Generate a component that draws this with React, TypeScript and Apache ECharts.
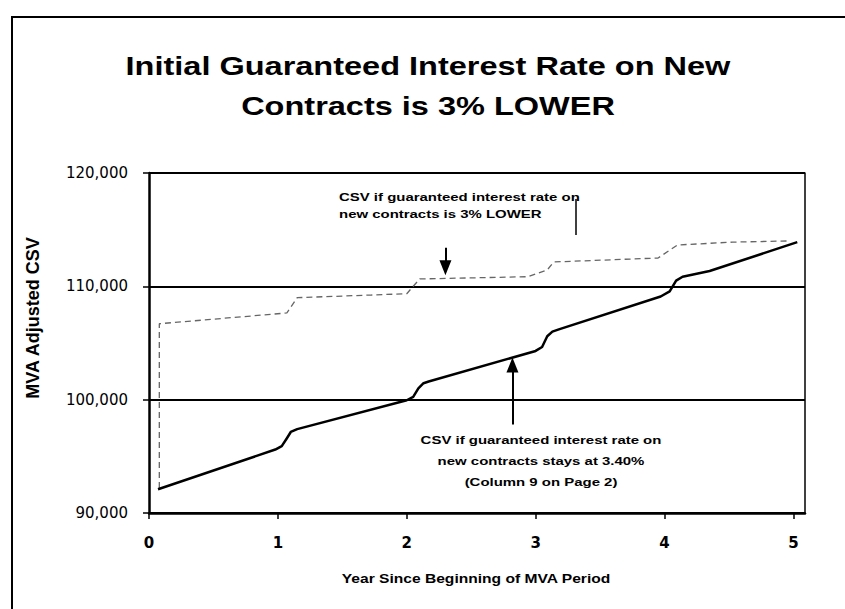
import React, { useEffect, useRef } from 'react';
import * as echarts from 'echarts';

// ---- data ----
const yearTicks = [0, 1, 2, 3, 4, 5];

// CSV if guaranteed interest rate on new contracts stays at 3.40%
const csvStays: [number, number][] = [
  [0.07, 92100], [0.98, 95600], [1.03, 95900], [1.07, 96600], [1.1, 97150], [1.15, 97400],
  [2.0, 99950], [2.05, 100250], [2.09, 101000], [2.13, 101450], [2.17, 101600],
  [3.0, 104300], [3.05, 104650], [3.09, 105600], [3.13, 106000], [3.18, 106200],
  [3.97, 109100], [4.04, 109550], [4.09, 110500], [4.14, 110850], [4.35, 111350], [5.03, 113900],
];

// CSV if guaranteed interest rate on new contracts is 3% LOWER
const csvLower: [number, number][] = [
  [0.08, 92200], [0.08, 106700], [1.07, 107650], [1.15, 109000], [1.72, 109230],
  [2.0, 109350], [2.1, 110650], [2.94, 110850], [3.09, 111450], [3.14, 112150],
  [3.95, 112500], [4.1, 113650], [4.53, 113900], [4.95, 114000],
];

const arrowLower: [number, number][] = [[2.3, 113400], [2.3, 111650]];
const arrowStays: [number, number][] = [[2.82, 97800], [2.82, 103050]];

const titleLines = ['Initial Guaranteed Interest Rate on New', 'Contracts is 3% LOWER'];
const noteLower = ['CSV if guaranteed interest rate on', 'new contracts is 3% LOWER'];
const noteStays = ['CSV if guaranteed interest rate on', 'new contracts stays at 3.40%', '(Column 9 on Page 2)'];
const xName = 'Year Since Beginning of MVA Period';
const yName = 'MVA Adjusted CSV';

const FONT = "'Liberation Sans', Arial, sans-serif";
const WIDE = "'DejaVu Sans', sans-serif";

export default function App() {
  const ref = useRef<HTMLDivElement>(null);
  useEffect(() => {
    document.body.style.margin = '0';
    const chart = echarts.init(ref.current!, null, { renderer: 'svg' });
    const txt = (text: string, x: number, y: number, size: number, align: string, sx = 1.3) => ({
      type: 'text', x, y, scaleX: sx,
      style: { text, fontSize: size, fontWeight: 'bold', fontFamily: FONT, fill: '#000', textAlign: align, textVerticalAlign: 'middle' },
    });
    chart.setOption({
      animation: false,
      backgroundColor: '#fff',
      grid: { left: 149, right: 40, top: 173, bottom: 96, containLabel: false },
      xAxis: {
        type: 'value', min: 0, max: 5.09,
        axisLine: { show: true, lineStyle: { color: '#000', width: 2.5 } },
        axisTick: { show: true, customValues: yearTicks, length: 6, inside: false, lineStyle: { color: '#000', width: 1.5 } },
        axisLabel: { customValues: yearTicks, margin: 22, fontSize: 15, fontWeight: 'bold', fontFamily: WIDE, color: '#000' },
        splitLine: { show: false },
      },
      yAxis: [
        {
          type: 'value', min: 90000, max: 120000, interval: 10000,
          axisLine: { show: true, lineStyle: { color: '#000', width: 2.5 } },
          axisTick: { show: true, length: 6, lineStyle: { color: '#000', width: 1.5 } },
          axisLabel: { margin: 21, fontSize: 15, fontFamily: WIDE, color: '#000', formatter: (v: number) => v.toLocaleString('en-US') },
          splitLine: { show: true, lineStyle: { color: '#000', width: 2 } },
        },
        {
          type: 'value', min: 90000, max: 120000, interval: 10000, position: 'right',
          axisLine: { show: true, lineStyle: { color: '#000', width: 1.5 } },
          axisTick: { show: false }, axisLabel: { show: false }, splitLine: { show: false },
        },
      ],
      series: [
        {
          name: 'CSV 3% lower', type: 'line', data: csvLower, showSymbol: false, symbol: 'none',
          lineStyle: { color: '#666', width: 1.3, type: [6, 4] }, z: 2,
        },
        {
          name: 'CSV stays at 3.40%', type: 'line', data: csvStays, showSymbol: false, symbol: 'none',
          lineStyle: { color: '#000', width: 2.5, join: 'round' }, z: 3,
          markLine: {
            silent: true, symbol: ['none', 'triangle'], symbolSize: [12, 15],
            lineStyle: { color: '#000', width: 2, type: 'solid' },
            label: { show: false },
            data: [
              [{ coord: arrowLower[0] }, { coord: arrowLower[1] }],
              [{ coord: arrowStays[0] }, { coord: arrowStays[1] }],
            ],
          },
        },
      ],
      graphic: [
        { type: 'rect', shape: { x: 12, y: 17, width: 900, height: 700 }, style: { fill: 'none', stroke: '#000', lineWidth: 2 } },
        txt(titleLines[0], 428, 66, 25, 'center'),
        txt(titleLines[1], 428, 106, 25, 'center'),
        txt(noteLower[0], 339, 197, 11.5, 'left'),
        txt(noteLower[1], 339, 214, 11.5, 'left'),
        txt(noteStays[0], 541, 440, 11.5, 'center'),
        txt(noteStays[1], 541, 461, 11.5, 'center'),
        txt(noteStays[2], 541, 482, 11.5, 'center'),
        txt(xName, 476, 579, 12, 'center'),
        {
          type: 'text', x: 33, y: 318, rotation: Math.PI / 2,
          style: { text: yName, fontSize: 18, fontWeight: 'bold', fontFamily: FONT, fill: '#000', textAlign: 'center', textVerticalAlign: 'middle' },
        },
        { type: 'line', shape: { x1: 576, y1: 199, x2: 576, y2: 235 }, style: { stroke: '#000', lineWidth: 1.5 } },
      ],
    });
    return () => chart.dispose();
  }, []);
  return <div ref={ref} style={{ width: 845, height: 609 }} />;
}
